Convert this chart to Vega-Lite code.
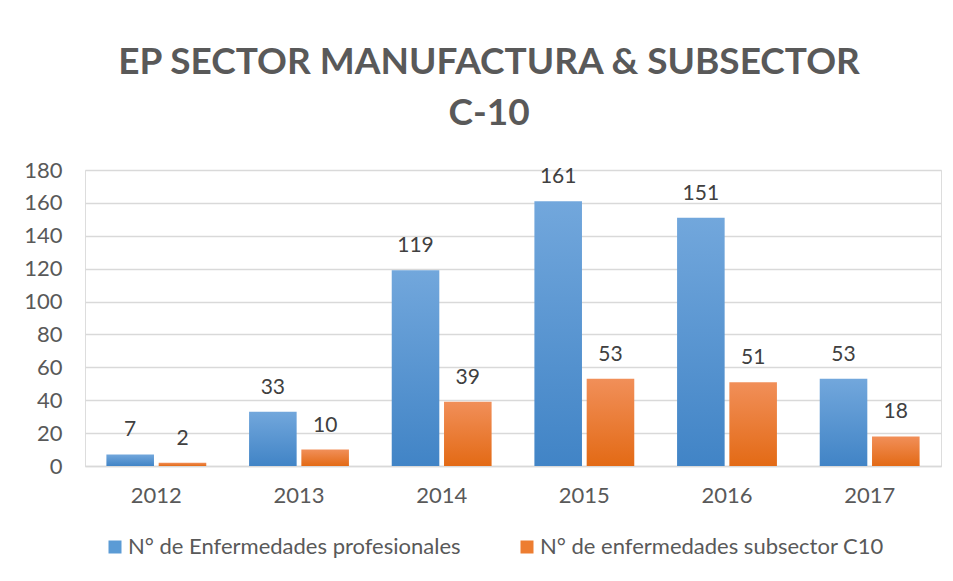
{
  "$schema": "https://vega.github.io/schema/vega-lite/v6.json",
  "width": 856,
  "height": 296,
  "autosize": {"type": "none"},
  "padding": {"left": 85, "top": 170, "right": 12, "bottom": 115},
  "background": "white",
  "title": {
    "text": ["EP SECTOR MANUFACTURA & SUBSECTOR", "C-10"],
    "font": "Lato",
    "fontSize": 37,
    "fontWeight": "bold",
    "color": "#595959",
    "anchor": "middle",
    "dx": -24,
    "lineHeight": 51,
    "offset": 26
  },
  "data": {
    "values": [
      {"year": "2012", "series": "N° de Enfermedades profesionales", "value": 7},
      {"year": "2012", "series": "N° de enfermedades subsector C10", "value": 2},
      {"year": "2013", "series": "N° de Enfermedades profesionales", "value": 33},
      {"year": "2013", "series": "N° de enfermedades subsector C10", "value": 10},
      {"year": "2014", "series": "N° de Enfermedades profesionales", "value": 119},
      {"year": "2014", "series": "N° de enfermedades subsector C10", "value": 39},
      {"year": "2015", "series": "N° de Enfermedades profesionales", "value": 161},
      {"year": "2015", "series": "N° de enfermedades subsector C10", "value": 53},
      {"year": "2016", "series": "N° de Enfermedades profesionales", "value": 151},
      {"year": "2016", "series": "N° de enfermedades subsector C10", "value": 51},
      {"year": "2017", "series": "N° de Enfermedades profesionales", "value": 53},
      {"year": "2017", "series": "N° de enfermedades subsector C10", "value": 18}
    ]
  },
  "encoding": {
    "x": {
      "field": "year",
      "type": "nominal",
      "scale": {"paddingInner": 0.3, "paddingOuter": 0.15},
      "axis": {
        "title": null,
        "labelAngle": 0,
        "ticks": false,
        "domainColor": "#d9d9d9",
        "domainWidth": 1.5,
        "labelFont": "Lato",
        "labelFontSize": 22,
        "labelColor": "#595959",
        "labelPadding": 19
      }
    },
    "xOffset": {
      "field": "series",
      "type": "nominal",
      "scale": {
        "domain": ["N° de Enfermedades profesionales", "N° de enfermedades subsector C10"],
        "paddingInner": 0.09,
        "paddingOuter": 0
      }
    },
    "y": {
      "field": "value",
      "type": "quantitative",
      "scale": {"domain": [0, 180], "nice": false},
      "axis": {
        "title": null,
        "values": [0, 20, 40, 60, 80, 100, 120, 140, 160, 180],
        "domain": false,
        "ticks": false,
        "gridColor": "#d9d9d9",
        "gridWidth": 1.5,
        "labelFont": "Lato",
        "labelFontSize": 22,
        "labelColor": "#595959",
        "labelPadding": 23
      }
    },
    "color": {
      "field": "series",
      "type": "nominal",
      "scale": {
        "domain": ["N° de Enfermedades profesionales", "N° de enfermedades subsector C10"],
        "range": ["#5b9bd5", "#ed7d31"]
      },
      "legend": {
        "title": null,
        "orient": "none",
        "direction": "horizontal",
        "legendX": 19,
        "legendY": 366,
        "symbolType": "square",
        "symbolSize": 169,
        "symbolStrokeWidth": 0,
        "labelFont": "Lato",
        "labelFontSize": 22,
        "labelColor": "#595959",
        "labelOffset": 2,
        "columnPadding": 55,
        "labelLimit": 0
      }
    }
  },
  "layer": [
    {
      "transform": [{"filter": {"field": "series", "equal": "N° de Enfermedades profesionales"}}],
      "mark": {
        "type": "bar",
        "fill": {"gradient": "linear", "x1": 0, "y1": 0, "x2": 0, "y2": 1, "stops": [{"offset": 0, "color": "#72a7dc"}, {"offset": 1, "color": "#4184c6"}]}
      }
    },
    {
      "transform": [{"filter": {"field": "series", "equal": "N° de enfermedades subsector C10"}}],
      "mark": {
        "type": "bar",
        "fill": {"gradient": "linear", "x1": 0, "y1": 0, "x2": 0, "y2": 1, "stops": [{"offset": 0, "color": "#f18f59"}, {"offset": 1, "color": "#e36a15"}]}
      }
    },
    {
      "mark": {"type": "text", "font": "Lato", "fontSize": 21, "fill": "#404040", "baseline": "alphabetic", "dy": -18},
      "encoding": {
        "text": {"field": "value", "type": "quantitative"}
      }
    }
  ]
}
